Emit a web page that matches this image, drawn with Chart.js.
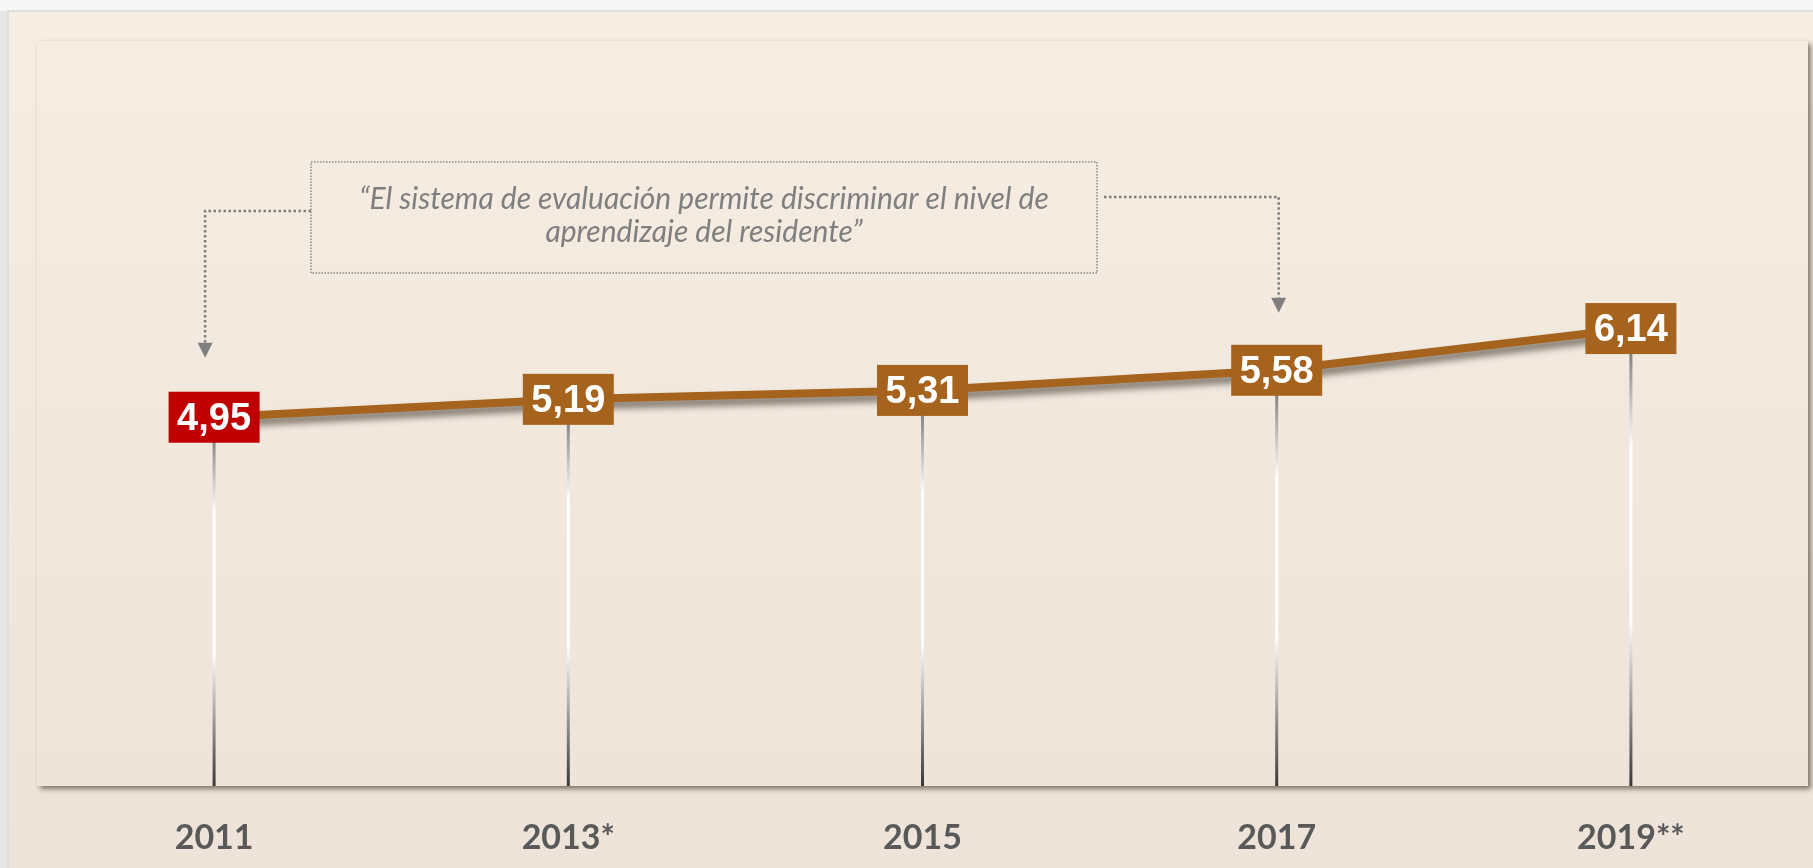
<!DOCTYPE html>
<html>
<head>
<meta charset="utf-8">
<script src="https://cdn.jsdelivr.net/npm/chart.js@4.4.1/dist/chart.umd.min.js"></script>
<style>
  html, body { margin: 0; padding: 0; overflow: hidden; background: #f6f6f6; }
  canvas { display: block; }
</style>
</head>
<body>
<canvas id="scoreChart" width="1813" height="868"></canvas>
<script>
// data
const years = ['2011', '2013*', '2015', '2017', '2019**'];
const scores = [4.95, 5.19, 5.31, 5.58, 6.14];
const yRange = [0, 10];
const noteLines = [
  '\u201CEl sistema de evaluación permite discriminar el nivel de',
  'aprendizaje del residente\u201D'
];
// the note points at these two years
const noteTargets = ['2011', '2017'];

const LINE_COLOR = '#A5631E';
const LOW_COLOR = '#C00000';
const GREY = '#7f7f7f';

const fmt = v => v.toFixed(2).replace('.', ',');

function creamGradient(ctx, h) {
  const g = ctx.createLinearGradient(0, 11, 0, h);
  g.addColorStop(0, '#F6EDE3');
  g.addColorStop(1, '#EDE3D8');
  return g;
}

const decor = {
  id: 'decor',
  beforeDraw(chart) {
    const { ctx, width, height, chartArea: a } = chart;
    ctx.save();
    ctx.fillStyle = '#f7f7f7';
    ctx.fillRect(0, 0, width, height);
    ctx.fillStyle = '#e6e6e6';
    ctx.fillRect(0, 11, 8, height);
    ctx.fillStyle = creamGradient(ctx, height);
    ctx.fillRect(8, 11, width - 8, height - 11);
    ctx.strokeStyle = '#d9d9d9';
    ctx.lineWidth = 1.5;
    ctx.beginPath();
    ctx.moveTo(8, height);
    ctx.lineTo(8, 11);
    ctx.lineTo(width, 11);
    ctx.stroke();
    // plot area with soft shadow on right / bottom
    ctx.shadowColor = 'rgba(70, 55, 40, 0.65)';
    ctx.shadowBlur = 5;
    ctx.shadowOffsetX = 3;
    ctx.shadowOffsetY = 3;
    ctx.fillStyle = creamGradient(ctx, height);
    ctx.fillRect(a.left, a.top, a.right - a.left, a.bottom - a.top);
    ctx.restore();
  },
  beforeDatasetsDraw(chart) {
    // vertical drop lines from each point to the bottom
    const { ctx, chartArea: a } = chart;
    const pts = chart.getDatasetMeta(0).data;
    ctx.save();
    ctx.lineWidth = 3;
    pts.forEach(p => {
      const g = ctx.createLinearGradient(0, p.y, 0, a.bottom);
      g.addColorStop(0, '#5e5e5e');
      g.addColorStop(0.26, '#ffffff');
      g.addColorStop(0.64, '#ffffff');
      g.addColorStop(1, '#383838');
      ctx.strokeStyle = g;
      ctx.beginPath();
      ctx.moveTo(p.x, p.y);
      ctx.lineTo(p.x, a.bottom);
      ctx.stroke();
    });
    ctx.restore();
  },
  beforeDatasetDraw(chart) {
    const ctx = chart.ctx;
    ctx.save();
    ctx.shadowColor = 'rgba(40, 30, 20, 0.6)';
    ctx.shadowBlur = 7;
    ctx.shadowOffsetX = 2;
    ctx.shadowOffsetY = 6;
  },
  afterDatasetDraw(chart) {
    chart.ctx.restore();
  },
  afterDatasetsDraw(chart) {
    const { ctx } = chart;
    const pts = chart.getDatasetMeta(0).data;
    const boxW = 91, boxH = 51;

    // value boxes
    ctx.save();
    ctx.font = 'bold 38px "Liberation Sans", Arial, sans-serif';
    ctx.textAlign = 'center';
    ctx.textBaseline = 'middle';
    pts.forEach((p, i) => {
      ctx.fillStyle = scores[i] < 5 ? LOW_COLOR : LINE_COLOR;
      ctx.fillRect(p.x - boxW / 2, p.y - boxH / 2, boxW, boxH);
      ctx.fillStyle = '#ffffff';
      ctx.fillText(fmt(scores[i]), p.x, p.y + 2);
    });
    ctx.restore();

    // quote box
    const bx = 311, by = 162, bw = 786, bh = 111;
    ctx.save();
    ctx.strokeStyle = '#8a8a8a';
    ctx.lineWidth = 1.5;
    ctx.setLineDash([1.5, 1.5]);
    ctx.strokeRect(bx, by, bw, bh);
    ctx.fillStyle = GREY;
    ctx.font = 'italic 30px Lato, "Open Sans", sans-serif';
    ctx.textAlign = 'center';
    ctx.textBaseline = 'alphabetic';
    ctx.fillText(noteLines[0], bx + bw / 2, 209);
    ctx.fillText(noteLines[1], bx + bw / 2, 242);

    // connectors with arrows to the pointed years
    const x = chart.scales.x;
    const iL = years.indexOf(noteTargets[0]);
    const iR = years.indexOf(noteTargets[1]);
    const lx = x.getPixelForValue(iL) - 9;
    const rx = x.getPixelForValue(iR) + 2;
    const lTip = pts[iL].y - boxH / 2 - 34;
    const rTip = pts[iR].y - boxH / 2 - 32;
    const head = 15;

    ctx.strokeStyle = GREY;
    ctx.lineWidth = 2.5;
    ctx.setLineDash([2.5, 2.5]);
    ctx.beginPath();
    ctx.moveTo(bx, 211);
    ctx.lineTo(lx, 211);
    ctx.lineTo(lx, lTip - head);
    ctx.moveTo(bx + bw + 7, 197);
    ctx.lineTo(rx, 197);
    ctx.lineTo(rx, rTip - head);
    ctx.stroke();
    ctx.setLineDash([]);
    ctx.fillStyle = GREY;
    [[lx, lTip], [rx, rTip]].forEach(([ax, ay]) => {
      ctx.beginPath();
      ctx.moveTo(ax - 7.5, ay - head);
      ctx.lineTo(ax + 7.5, ay - head);
      ctx.lineTo(ax, ay);
      ctx.closePath();
      ctx.fill();
    });
    ctx.restore();
  }
};

function build() {
  const ctx = document.getElementById('scoreChart').getContext('2d');
  new Chart(ctx, {
    type: 'line',
    data: {
      labels: years,
      datasets: [{
        data: scores,
        borderColor: LINE_COLOR,
        borderWidth: 8,
        pointRadius: 0,
        tension: 0,
        fill: false
      }]
    },
    options: {
      responsive: false,
      animation: false,
      layout: { padding: { left: 37, right: 5, top: 41, bottom: 0 } },
      plugins: {
        legend: { display: false },
        tooltip: { enabled: false }
      },
      scales: {
        x: {
          offset: true,
          grid: { display: false, drawTicks: false },
          border: { display: false },
          ticks: {
            color: '#595959',
            padding: 32,
            font: { family: 'Lato', weight: 'bold', size: 34 }
          },
          // keep the plot bottom at the same place as the original
          afterFit(scale) { scale.height = 82; }
        },
        y: { display: false, min: yRange[0], max: yRange[1] }
      }
    },
    plugins: [decor]
  });
}

Promise.all([
  document.fonts.load('bold 34px Lato'),
  document.fonts.load('italic 30px Lato'),
  document.fonts.load('bold 38px "Liberation Sans"')
]).catch(() => {}).then(build);
</script>
</body>
</html>
